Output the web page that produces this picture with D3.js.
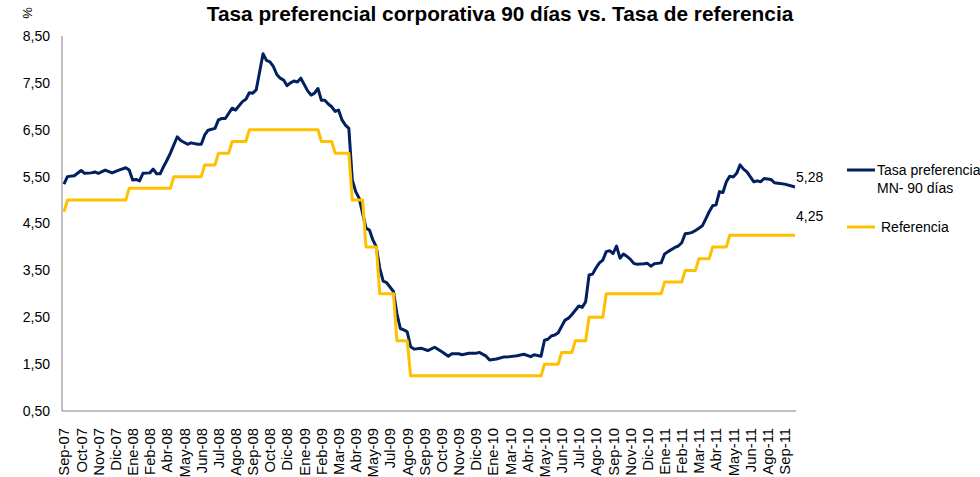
<!DOCTYPE html>
<html>
<head>
<meta charset="utf-8">
<script src="https://cdn.jsdelivr.net/npm/d3@7"></script>
<style>
  body { margin: 0; background: #fff; }
  svg { display: block; font-family: "Liberation Sans", Arial, sans-serif; }
</style>
</head>
<body>
<div id="chart"></div>
<script>
// Etiquetas del eje X (una cada 5 semanas)
const etiquetas = [
  'Sep-07', 'Oct-07', 'Nov-07', 'Dic-07', 'Ene-08', 'Feb-08', 'Abr-08', 'May-08',
  'Jun-08', 'Jul-08', 'Ago-08', 'Sep-08', 'Oct-08', 'Dic-08', 'Ene-09', 'Feb-09',
  'Mar-09', 'Abr-09', 'May-09', 'Jul-09', 'Ago-09', 'Sep-09', 'Oct-09', 'Nov-09',
  'Dic-09', 'Ene-10', 'Mar-10', 'Abr-10', 'May-10', 'Jun-10', 'Jul-10', 'Ago-10',
  'Sep-10', 'Nov-10', 'Dic-10', 'Ene-11', 'Feb-11', 'Mar-11', 'Abr-11', 'May-11',
  'Jun-11', 'Ago-11', 'Sep-11'
];
const semanasPorEtiqueta = 5;
const ultimaSemana = 213;

// Tasa preferencial MN 90 días: [semana, valor]
const tasaPreferencial = [
  [0, 5.34], [1, 5.50], [3, 5.52], [5, 5.63], [6, 5.57], [8, 5.58], [9, 5.60], [10, 5.57],
  [12, 5.64], [14, 5.58], [16, 5.64], [18, 5.69], [19, 5.64], [20, 5.43], [21, 5.44], [22, 5.41],
  [23, 5.57], [25, 5.58], [26, 5.66], [27, 5.56], [28, 5.56], [29, 5.71], [30, 5.85], [31, 6.00],
  [33, 6.35], [34, 6.27], [36, 6.19], [37, 6.22], [39, 6.19], [40, 6.19], [41, 6.39], [42, 6.49],
  [44, 6.53], [45, 6.71], [46, 6.74], [47, 6.74], [49, 6.96], [50, 6.92], [52, 7.10], [53, 7.15],
  [54, 7.29], [55, 7.28], [56, 7.35], [58, 8.12], [59, 7.98], [60, 7.95], [61, 7.85], [62, 7.68],
  [63, 7.60], [64, 7.56], [65, 7.44], [66, 7.50], [67, 7.54], [68, 7.52], [69, 7.60], [71, 7.33],
  [72, 7.24], [73, 7.28], [74, 7.38], [75, 7.13], [76, 7.13], [77, 7.05], [78, 6.99], [79, 6.89],
  [80, 6.92], [81, 6.71], [82, 6.60], [83, 6.53], [84, 5.43], [85, 5.18], [86, 5.04], [87, 4.72],
  [88, 4.40], [89, 4.36], [90, 4.15], [91, 4.00], [92, 3.55], [93, 3.27], [94, 3.24], [96, 3.05],
  [97, 2.58], [98, 2.26], [99, 2.23], [100, 2.19], [101, 1.87], [102, 1.82], [104, 1.84], [106, 1.79],
  [108, 1.86], [110, 1.77], [112, 1.67], [113, 1.72], [115, 1.72], [116, 1.70], [118, 1.73], [120, 1.73],
  [121, 1.75], [123, 1.67], [124, 1.59], [126, 1.61], [128, 1.65], [130, 1.66], [132, 1.68], [134, 1.71],
  [136, 1.66], [137, 1.70], [139, 1.67], [140, 2.01], [141, 2.03], [142, 2.10], [143, 2.12], [144, 2.17],
  [146, 2.44], [147, 2.48], [148, 2.56], [150, 2.74], [151, 2.71], [152, 2.83], [153, 3.40], [154, 3.42],
  [155, 3.55], [156, 3.66], [157, 3.72], [158, 3.90], [159, 3.92], [160, 3.86], [161, 4.02], [162, 3.76],
  [163, 3.85], [164, 3.80], [165, 3.74], [166, 3.65], [167, 3.63], [169, 3.64], [170, 3.65], [171, 3.59],
  [172, 3.64], [174, 3.66], [175, 3.85], [176, 3.90], [178, 3.99], [179, 4.02], [180, 4.09], [181, 4.28],
  [182, 4.29], [183, 4.31], [184, 4.35], [185, 4.40], [186, 4.45], [187, 4.60], [188, 4.75], [189, 4.88],
  [190, 4.90], [191, 5.18], [192, 5.16], [193, 5.39], [194, 5.51], [195, 5.49], [196, 5.57], [197, 5.75],
  [198, 5.66], [199, 5.60], [201, 5.39], [202, 5.41], [203, 5.39], [204, 5.46], [206, 5.44], [207, 5.37],
  [208, 5.36], [210, 5.34], [212, 5.30], [213, 5.28]
];

// Tasa de referencia: semana desde la cual rige cada nivel
const referenciaCambios = [
  [0, 4.75], [1, 5.00], [19, 5.25], [32, 5.50], [41, 5.75], [45, 6.00], [49, 6.25], [54, 6.50],
  [75, 6.25], [79, 6.00], [84, 5.00], [88, 4.00], [92, 3.00], [97, 2.00], [101, 1.25], [140, 1.50],
  [145, 1.75], [149, 2.00], [153, 2.50], [158, 3.00], [175, 3.25], [181, 3.50], [185, 3.75],
  [189, 4.00], [194, 4.25]
];

const yTicks = [0.5, 1.5, 2.5, 3.5, 4.5, 5.5, 6.5, 7.5, 8.5];

const colorTasa = '#002060';
const colorRef = '#FFC000';

// Serie semanal de referencia (mantiene el nivel vigente)
const referencia = d3.range(0, ultimaSemana + 1).map(w => {
  let v = referenciaCambios[0][1];
  for (const [s, val] of referenciaCambios) if (s <= w) v = val;
  return [w, v];
});

const width = 980, height = 477;
const svg = d3.select('#chart').append('svg')
  .attr('width', width)
  .attr('height', height);

const x = d3.scaleLinear().domain([0, ultimaSemana]).range([64, 795]);
const y = d3.scaleLinear().domain([0.5, 8.5]).range([411, 36]);

const locale = d3.formatLocale({ decimal: ',', thousands: '.', grouping: [3], currency: ['', ''] });
const fmt = locale.format('.2f');

// Title
svg.append('text')
  .attr('x', 500)
  .attr('y', 21)
  .attr('text-anchor', 'middle')
  .style('font-size', '20.8px')
  .style('font-weight', 'bold')
  .text('Tasa preferencial corporativa 90 días vs. Tasa de referencia');

// % label
svg.append('text')
  .attr('transform', 'translate(32,13) rotate(-90)')
  .attr('text-anchor', 'middle')
  .style('font-size', '13px')
  .text('%');

// Y axis
const yAxis = svg.append('g')
  .attr('transform', 'translate(62,0)')
  .call(d3.axisLeft(y).tickValues(yTicks).tickSize(0).tickPadding(12).tickFormat(fmt));
yAxis.select('.domain').attr('stroke', '#808080').attr('d', `M0,${y(8.5)}V${y(0.5)}`);
yAxis.selectAll('text').style('font-size', '14px').attr('fill', '#000');

// X axis
const xAxis = svg.append('g')
  .attr('transform', 'translate(0,411)')
  .call(d3.axisBottom(x)
    .tickValues(etiquetas.map((_, i) => i * semanasPorEtiqueta))
    .tickSize(0)
    .tickFormat((d, i) => etiquetas[i]));
xAxis.select('.domain').attr('stroke', '#808080').attr('d', 'M62,0H796');
xAxis.selectAll('text')
  .style('font-size', '14px')
  .attr('fill', '#000')
  .style('text-anchor', 'end')
  .attr('x', -16)
  .attr('y', 0)
  .attr('dy', '0.35em')
  .attr('transform', 'rotate(-90) scale(1.06,1)');

const line = d3.line().x(d => x(d[0])).y(d => y(d[1]));

svg.append('path')
  .datum(tasaPreferencial)
  .attr('d', line)
  .attr('fill', 'none')
  .attr('stroke', colorTasa)
  .attr('stroke-width', 3)
  .attr('stroke-linejoin', 'round');

svg.append('path')
  .datum(referencia)
  .attr('d', line)
  .attr('fill', 'none')
  .attr('stroke', colorRef)
  .attr('stroke-width', 3)
  .attr('stroke-linejoin', 'round');

// End value labels
const ultTasa = tasaPreferencial[tasaPreferencial.length - 1];
const ultRef = referencia[referencia.length - 1];
svg.append('text')
  .attr('x', x(ultTasa[0]) + 1)
  .attr('y', y(ultTasa[1]) - 5)
  .style('font-size', '14px')
  .text(fmt(ultTasa[1]));
svg.append('text')
  .attr('x', x(ultRef[0]) + 1)
  .attr('y', y(ultRef[1]) - 14)
  .style('font-size', '14px')
  .text(fmt(ultRef[1]));

// Legend
const legend = svg.append('g');
legend.append('line')
  .attr('x1', 847).attr('x2', 875).attr('y1', 170).attr('y2', 170)
  .attr('stroke', colorTasa).attr('stroke-width', 3);
legend.append('text')
  .attr('x', 877).attr('y', 175)
  .style('font-size', '14px')
  .text('Tasa preferencia');
legend.append('text')
  .attr('x', 877).attr('y', 193)
  .style('font-size', '14px')
  .text('MN- 90 días');
legend.append('line')
  .attr('x1', 847).attr('x2', 875).attr('y1', 227).attr('y2', 227)
  .attr('stroke', colorRef).attr('stroke-width', 3);
legend.append('text')
  .attr('x', 881).attr('y', 232)
  .style('font-size', '14px')
  .text('Referencia');
</script>
</body>
</html>
